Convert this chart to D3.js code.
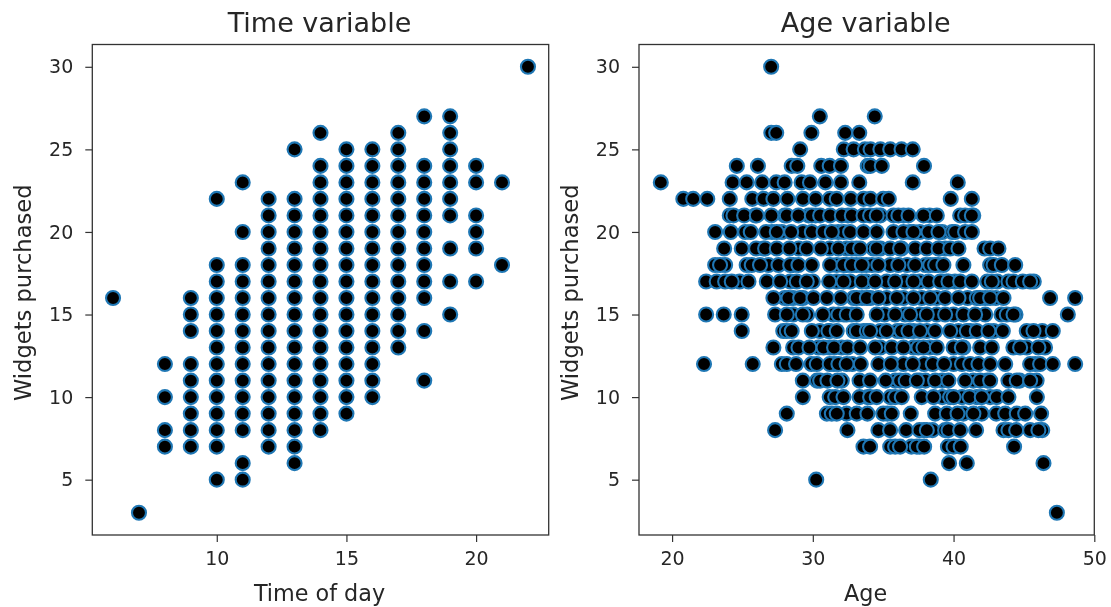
<!DOCTYPE html>
<html><head><meta charset="utf-8">
<style>html,body{margin:0;padding:0;background:#fff}svg{display:block;filter:blur(0.5px)}text{font-family:"DejaVu Sans";fill:#262626}</style>
<script src="https://cdn.jsdelivr.net/npm/d3@7"></script></head><body><div id="c"></div>
<script>
// Time panel: widgets purchased at each hour
const hours=[6,7,8,9,10,11,12,13,14,15,16,17,18,19,20,21,22];
const hour6=[16],hour7=[3],hour8=[7,8,10,12],hour9=[7,8,9,10,11,12,14,15,16];
const hour10=[5,7,8,9,10,11,12,13,14,15,16,17,18,22];
const hour11=[5,6,8,9,10,11,12,13,14,15,16,17,18,20,23];
const hour12=[7,8,9,10,11,12,13,14,15,16,17,18,19,20,21,22];
const hour13=[6,7,8,9,10,11,12,13,14,15,16,17,18,19,20,21,22,25];
const hour14=[8,9,10,11,12,13,14,15,16,17,18,19,20,21,22,23,24,26];
const hour15=[9,10,11,12,13,14,15,16,17,18,19,20,21,22,23,24,25];
const hour16=[10,11,12,13,14,15,16,17,18,19,20,21,22,23,24,25];
const hour17=[13,14,15,16,17,18,19,20,21,22,23,24,25,26];
const hour18=[11,14,16,17,18,19,20,21,22,23,24,27];
const hour19=[15,17,19,21,22,23,24,25,26,27];
const hour20=[17,19,20,21,23,24],hour21=[18,23],hour22=[30];
const hourValues=[hour6,hour7,hour8,hour9,hour10,hour11,hour12,hour13,hour14,hour15,hour16,hour17,hour18,hour19,hour20,hour21,hour22];
// Age panel: ages read along each widgets row (partly hidden dots first, clear dots after)
const widgetRows=[3,5,6,7,8,9,10,11,12,13,14,15,16,17,18,19,20,21,22,23,24,25,26,27,30];
const age3=[47.34],age5=[30.24,38.38],age6=[39.68,40.94,46.39];
const age7=[35.5,37,37.6,39.6,33.6,34.07,35.85,36.2,37.39,37.91,40,40.51,44.3];
const age8=[37.9,38.5,39.4,43.55,46.3,27.32,32.46,34.66,35.49,36.63,37.58,38.1,39.64,40.47,41.6,43.9,44.45,45.44,46.03];
const age9=[31,32.4,40.7,42,35.3,28.15,31.35,31.7,33.12,33.88,35,35.61,36.96,38.69,39.52,40.28,41.41,43.03,43.67,44.49,45.09,46.22];
const age10=[31.2,33.9,35.5,39.2,39.75,40.6,41.65,42.6,29.29,31.59,32.18,33.32,34.07,34.54,35.85,36.32,37.74,38.57,40,41.13,42,43.07,43.9,45.92];
const age11=[30.3,32.06,35.85,36.2,37.6,38,39.2,41.4,42.4,44.7,45.9,29.29,30.52,31.04,31.75,33.32,34.07,35.18,36.6,37.39,38.69,39.64,40.82,41.89,42.6,43.9,44.49,45.44];
const age12=[27.8,29.9,31.5,32.8,35.7,36.44,37.9,40,40.6,45.8,22.27,25.73,28.15,28.81,30.28,31.2,31.82,32.4,33.41,34.66,35.54,37.1,38.52,39.33,41.18,41.77,42.6,43.67,45.44,46.15,47.05,48.64];
const age13=[28.6,30.4,31.2,32.05,34.8,37.15,37.5,38.3,40.7,44.25,45.2,46.5,27.2,28.98,29.76,30.76,31.51,32.46,33.36,34.43,35.61,36.44,37.86,38.81,40,40.59,41.89,42.72,44.73,46.03];
const age14=[27.9,30.5,31.2,32.9,33.6,34.8,36,36.3,37.15,38.1,40.35,41.2,42.85,45.2,46.3,24.95,28.15,28.5,29.93,31.11,31.7,33.12,33.84,34.07,35.25,36.8,37.62,38.69,39.76,40.94,41.65,42.48,43.5,45.68,47.05];
const age15=[28.6,29.6,31.45,32.2,32.77,35.1,36.55,37.6,38.8,40,42.25,43.4,44.4,22.42,23.67,24.95,27.32,28.15,29.29,30.71,31.82,32.41,33.12,34.54,35.85,36.91,38.1,39.4,40.7,41.53,43.78,44.26,48.12];
const age16=[28,28.6,29.3,32.9,33.5,34.1,35.25,36.44,37.74,38.8,41,41.65,42.25,43,27.2,28.27,29.1,30.05,31,31.99,33.12,33.84,34.66,35.97,37.15,38.34,39.4,40.35,41.89,42.6,43.55,46.86,48.64];
const age17=[24.8,28.4,30,31.7,32.65,33.8,35.25,36.55,37.6,39.2,39.5,40.1,42.4,43.1,43.9,45.7,22.42,23.17,23.77,24.24,25.43,26.73,27.68,28.86,29.57,31.16,32.18,33.48,34.43,35.85,37.15,38.22,39.05,39.64,40.47,41.3,42.72,44.26,44.92,45.44];
const age18=[23.77,25.3,26.85,28.6,31.7,32.4,33.1,33.8,34.2,35.5,36.7,38,38.9,42.6,23.06,23.41,25.66,26.25,27.56,28.39,28.98,29.93,31.23,32.18,32.77,33.48,34.66,36.08,37.27,38.34,38.69,39.28,40.7,42.84,43.43,44.38];
const age19=[26.5,29,31.2,32.4,33.1,34.3,34.8,36.3,39,39.4,42.2,23.7,24.95,25.97,26.61,27.44,28.34,29.57,30.57,31.82,32.77,33.36,34.54,35.49,36.2,37.27,38.1,38.93,39.76,40.35,42.6,43.19];
const age20=[25.2,27.1,27.8,29.3,31.8,32.2,36.9,37.6,39.2,39.9,23.06,24.17,25.59,26.68,27.44,28.46,29.93,30.76,31.35,32.65,33.6,34.54,35.73,36.44,37.15,38.22,38.93,40.11,40.82,41.3];
const age21=[24.1,25.9,28,29.7,30.2,32.5,34.8,35.73,36.44,38.3,40.47,41.4,24.36,25.12,26.02,27.06,28.15,28.98,29.93,30.52,31.23,32.06,32.77,33.6,34.07,34.54,36.08,36.8,37.86,38.81,40.82,41.3];
const age22=[20.8,21.5,22.5,24.1,25.7,26.5,27.2,28.2,29.3,30.2,31.2,31.7,32.7,33.6,34.1,35,35.4,39.8,41.3];
const age23=[19.2,24.3,25.3,26.4,27.4,28,29.2,29.8,30.9,32,33.3,37.1,40.3];
const age24=[24.6,26.1,28.5,28.9,30.6,31.2,32,33.9,34.1,34.9,37.9];
const age25=[29.1,32.2,32.9,33.7,34.1,34.8,35.5,36.3,37.1];
const age26=[27.05,27.4,29.9,32.3,33.3],age27=[30.5,34.4],age30=[27.04];
const ageValues=[age3,age5,age6,age7,age8,age9,age10,age11,age12,age13,age14,age15,age16,age17,age18,age19,age20,age21,age22,age23,age24,age25,age26,age27,age30];
const timeTicks=[10,15,20],ageTicks=[20,30,40,50],widgetTicks=[5,10,15,20,25,30];

const timePoints=hours.flatMap((h,i)=>hourValues[i].map(w=>({x:h,y:w})));
const agePoints=widgetRows.flatMap((w,i)=>ageValues[i].map(a=>({x:a,y:w})));
const svg=d3.select('#c').append('svg').attr('width',1111).attr('height',607);
const plotTop=44.5,plotBottom=535;
function panel(left,right,xDomain,xTicks,pts,title,xLabel){
  const x=d3.scaleLinear().domain(xDomain).range([left,right]);
  const y=d3.scaleLinear().domain([1.65,31.35]).range([plotBottom,plotTop]);
  const g=svg.append('g');
  g.append('g').selectAll('circle').data(pts).join('circle')
    .attr('cx',d=>x(d.x)).attr('cy',d=>y(d.y)).attr('r',7)
    .attr('fill','#000').attr('stroke','#1f77b4').attr('stroke-width',2.1);
  const ax=g.append('g').attr('transform',`translate(0,${plotBottom})`).call(d3.axisBottom(x).tickValues(xTicks).tickFormat(d3.format('d')).tickSizeOuter(0).tickSize(7).tickPadding(10));
  const ay=g.append('g').attr('transform',`translate(${left},0)`).call(d3.axisLeft(y).tickValues(widgetTicks).tickFormat(d3.format('d')).tickSizeOuter(0).tickSize(7).tickPadding(12));
  [ax,ay].forEach(a=>{a.selectAll('text').style('font-size','19px').style('font-family','DejaVu Sans').attr('fill','#262626');a.select('.domain').remove();a.selectAll('line').attr('stroke','#333').attr('stroke-width',1.2);});
  g.append('rect').attr('x',left).attr('y',plotTop).attr('width',right-left).attr('height',plotBottom-plotTop).attr('fill','none').attr('stroke','#333').attr('stroke-width',1.3);
  g.append('text').attr('x',(left+right)/2-1).attr('y',32).attr('text-anchor','middle').style('font-size','27px').text(title);
  g.append('text').attr('x',(left+right)/2-1).attr('y',601).attr('text-anchor','middle').style('font-size','22.3px').text(xLabel);
  g.append('text').attr('transform',`translate(${left-61},${(plotTop+plotBottom)/2+3}) rotate(-90)`).attr('text-anchor','middle').style('font-size','22.6px').text('Widgets purchased');
}
panel(92.3,548.7,[5.2,22.8],timeTicks,timePoints,'Time variable','Time of day');
panel(639,1094.3,[17.65,50],ageTicks,agePoints,'Age variable','Age');
</script></body></html>
